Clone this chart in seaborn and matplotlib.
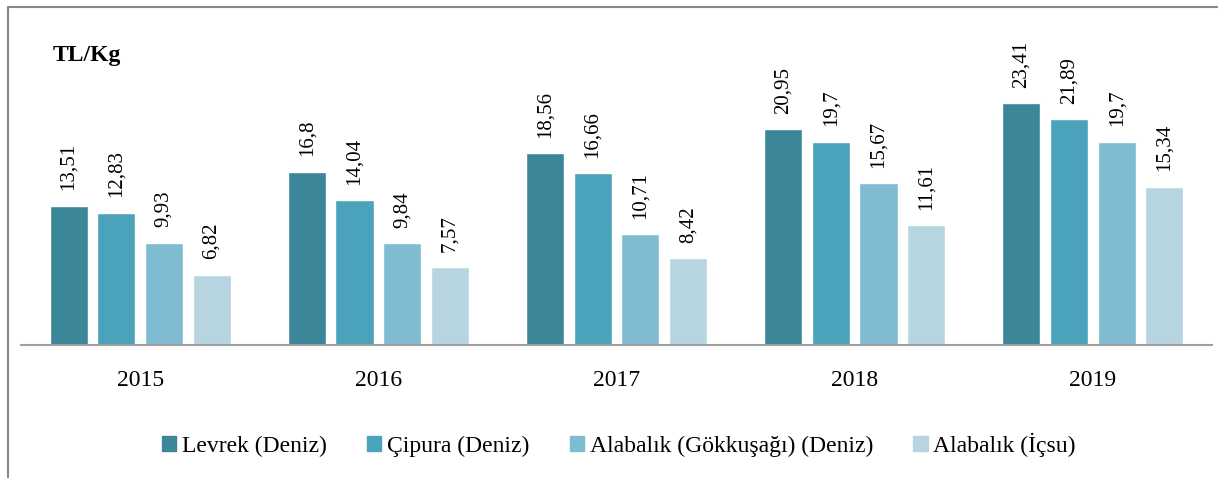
import pandas as pd
import numpy as np
import seaborn as sns
import matplotlib.pyplot as plt
from matplotlib.lines import Line2D

years = ['2015', '2016', '2017', '2018', '2019']
species = ['Levrek (Deniz)', 'Çipura (Deniz)', 'Alabalık (Gökkuşağı) (Deniz)', 'Alabalık (İçsu)']
levrek = [13.51, 16.8, 18.56, 20.95, 23.41]
cipura = [12.83, 14.04, 16.66, 19.7, 21.89]
alabalik_deniz = [9.93, 9.84, 10.71, 15.67, 19.7]
alabalik_icsu = [6.82, 7.57, 8.42, 11.61, 15.34]
colors = ['#3b8799', '#4aa3bb', '#80bcd1', '#b7d5e0']

df = pd.DataFrame({
    'Yil': years * 4,
    'Tur': [s for s in species for _ in years],
    'Fiyat': levrek + cipura + alabalik_deniz + alabalik_icsu,
})

sns.set_theme(style='white')
plt.rcParams['font.family'] = ['Liberation Serif', 'DejaVu Serif']
plt.rcParams['text.color'] = 'black'
plt.rcParams['xtick.color'] = 'black'

W, H = 1218, 478
fig = plt.figure(figsize=(W / 100, H / 100), dpi=100)
# axes placed in pixels: baseline at y=345, ~10.3 px per TL
ymax = 30
ax = fig.add_axes([21 / W, (H - 345) / H, (1212 - 21) / W, ymax * 10.32 / H])

sns.barplot(data=df, x='Yil', y='Fiyat', hue='Tur', hue_order=species,
            palette=colors, width=0.8, gap=0.2, saturation=1, ax=ax, legend=False)

for cont in ax.containers:
    labels = [f'{b.get_height():g}'.replace('.', ',') for b in cont]
    ax.bar_label(cont, labels=labels, rotation=90, padding=11, fontsize=15, color='black')

ax.set_ylim(0, ymax)
ax.set_xlim(-0.5, 4.5)
ax.set_xlabel('')
ax.set_ylabel('')
ax.set_yticks([])
ax.tick_params(axis='x', labelsize=17, pad=18, length=0, labelcolor='black')
for s in ['top', 'right', 'left']:
    ax.spines[s].set_visible(False)
ax.spines['bottom'].set_color('#a0a0a0')
ax.spines['bottom'].set_linewidth(1.5)

fig.text(53 / W, 1 - 55 / H, 'TL/Kg', fontsize=17, fontweight='bold', va='center', color='black')

handles = [plt.Rectangle((0, 0), 1, 1, color=c) for c in colors]
fig.legend(handles, species, loc='center', bbox_to_anchor=(619 / W, 1 - 445 / H),
           ncol=4, frameon=False, fontsize=17, handlelength=0.6, handleheight=0.6,
           handletextpad=0.25, columnspacing=1.7)

# outer frame (left and top only)
fig.add_artist(Line2D([8 / W, 8 / W], [0, 1 - 7 / H], color='#888888', lw=1.5))
fig.add_artist(Line2D([8 / W, 1], [1 - 7 / H, 1 - 7 / H], color='#888888', lw=1.5))

fig.savefig('out.png', dpi=100)
